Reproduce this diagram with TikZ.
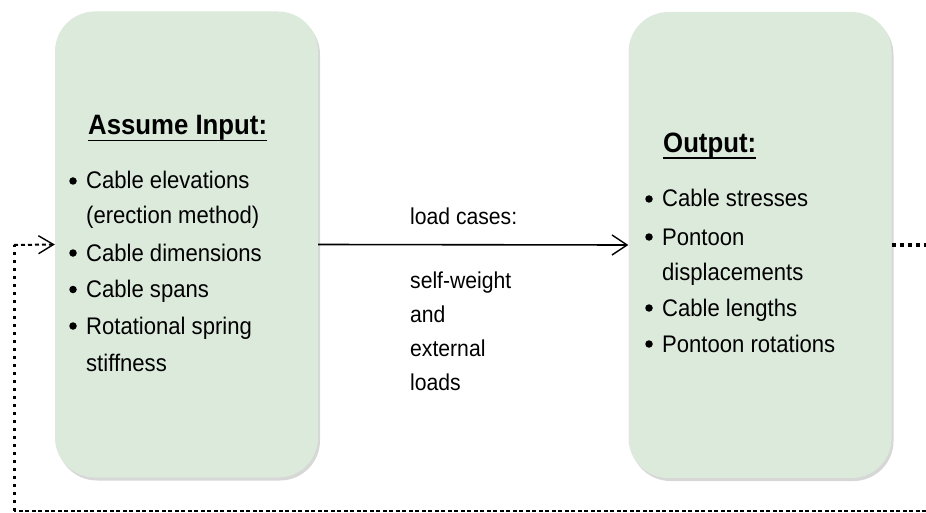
\documentclass[tikz,border=0pt]{standalone}
\usepackage{fontspec}
\setmainfont[FakeStretch=0.92]{Liberation Sans}
\usetikzlibrary{arrows.meta,shadows}
\definecolor{boxgreen}{RGB}{220,234,220}
\tikzset{
  panel/.style={fill=boxgreen, draw=none, rounded corners=40pt, minimum width=263pt, minimum height=466pt, inner sep=0pt,
    drop shadow={shadow xshift=2pt, shadow yshift=-3pt, opacity=0.35, fill=black!45}},
  txt/.style={anchor=base west, inner sep=0pt, font=\fontsize{24}{29}\selectfont},
  bul/.style={circle, fill=black, inner sep=0pt, minimum size=7.5pt},
  midtxt/.style={anchor=base west, inner sep=0pt, font=\fontsize{23}{28}\selectfont},
  head/.style={anchor=base west, inner sep=0pt, font=\fontsize{28}{33}\selectfont\bfseries},
  uline/.style={line width=1.6pt},
  mainarrow/.style={line width=1.6pt, -{Straight Barb[length=15pt,width=20pt,line width=1.4pt]}},
  dotline/.style={line width=4pt, dash pattern=on 4pt off 4pt},
  vdotline/.style={line width=3pt, dash pattern=on 3pt off 5pt},
  dashline/.style={line width=2pt, dash pattern=on 4pt off 2.5pt},
  dasharrow/.style={line width=2pt, dash pattern=on 4pt off 3pt, -{Straight Barb[length=15pt,width=18pt,line width=1.4pt]}}
}
\begin{document}
\begin{tikzpicture}[x=1pt,y=-1pt]
\useasboundingbox (0,0) rectangle (926,513);
% panels
\node[panel] (a) at (186.5,244.5) {};
\node[panel] (b) at (760,245) {};
% left panel text
\node[head] (ha) at (88,135) {Assume Input:};
\draw[uline] ([yshift=-5.5pt]ha.base west) -- ([yshift=-5.5pt]ha.base east);
\node[bul] (ba1) at (73,181) {};
\node[txt] (ta1) at (86,189) {Cable elevations};
\node[txt] (ta1b) at (86,224) {(erection method)};
\node[bul] (ba2) at (73,253) {};
\node[txt] (ta2) at (86,261) {Cable dimensions};
\node[bul] (ba3) at (73,289.5) {};
\node[txt] (ta3) at (86,297.5) {Cable spans};
\node[bul] (ba4) at (73,326) {};
\node[txt] (ta4) at (86,334) {Rotational spring};
\node[txt] (ta4b) at (86,371) {stiffness};
% right panel text
\node[head] (hb) at (663,153) {Output:};
\draw[uline] ([yshift=-5pt]hb.base west) -- ([yshift=-5pt]hb.base east);
\node[bul] (bb1) at (649,199) {};
\node[txt] (tb1) at (662,207) {Cable stresses};
\node[bul] (bb2) at (649,237) {};
\node[txt] (tb2) at (662,245) {Pontoon};
\node[txt] (tb2b) at (662,280) {displacements};
\node[bul] (bb3) at (649,308) {};
\node[txt] (tb3) at (662,316) {Cable lengths};
\node[bul] (bb4) at (649,344) {};
\node[txt] (tb4) at (662,352) {Pontoon rotations};
% middle labels
\node[midtxt] (m0) at (410,225) {load cases:};
\node[midtxt] (m1) at (410,288) {self-weight};
\node[midtxt] (m2) at (410,322) {and};
\node[midtxt] (m3) at (410,356) {external};
\node[midtxt] (m4) at (410,390) {loads};
% main arrow
\draw[mainarrow] (a.east) -- (b.west);
% feedback loop
\coordinate (rc) at (926,245);
\coordinate (br) at (926,511);
\coordinate (bl) at (14,511);
\coordinate (lc) at (14,245);
\draw[dotline] (b.east) -- (rc);
\draw[dashline] (br) -- (bl);
\draw[vdotline] (bl) -- (lc);
\draw[dasharrow] (lc) -- (a.west);
\end{tikzpicture}
\end{document}
